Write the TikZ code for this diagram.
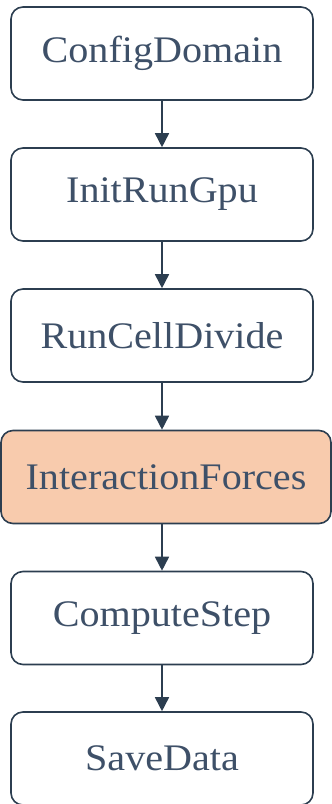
\documentclass[tikz,border=0pt]{standalone}
\usepackage{fontspec}
\setmainfont[FakeStretch=1.07]{Liberation Serif}
\usetikzlibrary{arrows.meta}
\definecolor{edge}{HTML}{2C3E50}
\definecolor{txt}{HTML}{3E5068}
\definecolor{hot}{HTML}{F8CBAD}
\tikzset{
  stepbox/.style={draw=edge, line width=1.6pt, rounded corners=12pt, fill=white,
    minimum width=302pt, minimum height=93pt, text=txt, inner sep=0pt,
    font=\fontsize{37.5}{42}\selectfont},
  hotbox/.style={stepbox, fill=hot, minimum width=330pt},
  flow/.style={draw=edge, line width=1.6pt, -{Triangle[length=14pt,width=14pt]}}
}
\begin{document}
\begin{tikzpicture}[x=1pt,y=1pt]
\useasboundingbox (0,0) rectangle (332,-804);
\node[stepbox] (a) at (162,-53.5) {ConfigDomain};
\node[stepbox] (b) at (162,-194.5) {InitRunGpu};
\node[stepbox] (c) at (162,-335.5) {RunCellDivide};
\node[hotbox] (d) at (166,-477) {InteractionForces};
\node[stepbox] (e) at (162,-618) {ComputeStep};
\node[stepbox] (f) at (162,-758.5) {SaveData};
\draw[flow] (a.south) -- (b.north);
\draw[flow] (b.south) -- (c.north);
\draw[flow] (c.south) -- (c.south |- d.north);
\draw[flow] (c.south |- d.south) -- (e.north);
\draw[flow] (e.south) -- (f.north);
\end{tikzpicture}
\end{document}
